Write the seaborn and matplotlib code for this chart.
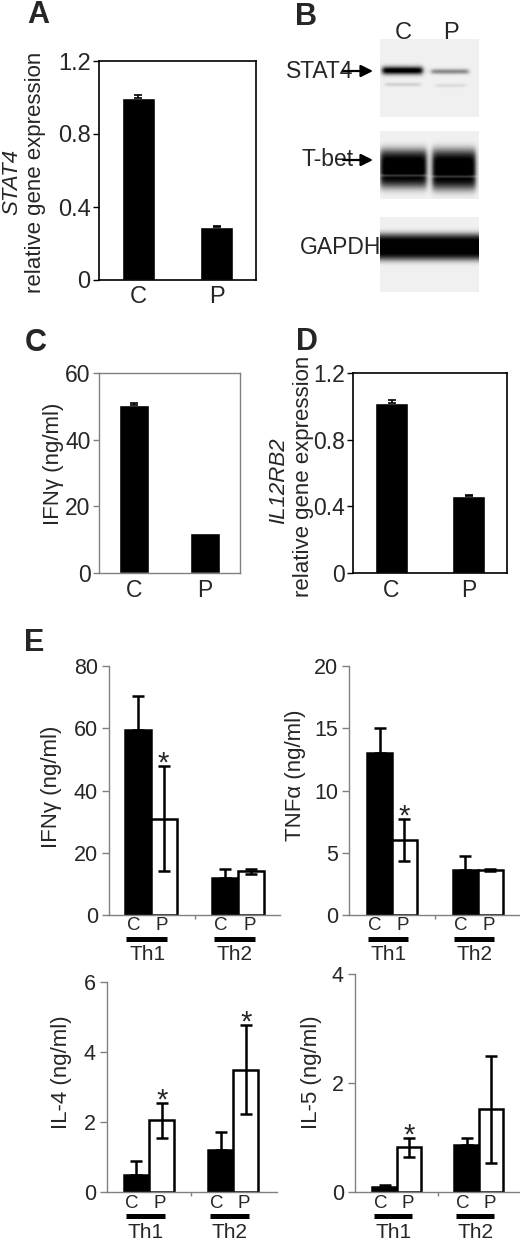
import numpy as np
import pandas as pd
import matplotlib
matplotlib.use("Agg")
import matplotlib.pyplot as plt
from matplotlib.transforms import blended_transform_factory
import seaborn as sns

# A: STAT4 relative gene expression
stat4_labels = ["C", "P"]
stat4_mean = [1.0, 0.29]
stat4_err = [0.012, 0.006]

# B: western blot band densities (1 = saturated band)
blot_stat4 = [1.0, 0.40]
blot_stat4_minor = [0.12, 0.08]
blot_tbet = [1.0, 1.0]
blot_gapdh = [1.0, 1.0]

# C: IFNγ secretion (ng/ml)
ifng_labels = ["C", "P"]
ifng_mean = [50.5, 12.0]
ifng_err = [0.6, 0.0]

# D: IL12RB2 relative gene expression
il12rb2_labels = ["C", "P"]
il12rb2_mean = [1.02, 0.46]
il12rb2_err = [0.02, 0.01]

# E: cytokines in Th1 / Th2 cultures, control (C) vs patient (P)
cell_types = ["Th1", "Th2"]
conditions = ["C", "P"]
e_ifng_c, e_ifng_c_err = [59.5, 12.0], [10.8, 2.8]
e_ifng_p, e_ifng_p_err = [31.0, 14.0], [17.0, 0.7]
e_ifng_star = [True, False]
e_tnfa_c, e_tnfa_c_err = [13.0, 3.6], [2.0, 1.1]
e_tnfa_p, e_tnfa_p_err = [6.0, 3.6], [1.7, 0.06]
e_tnfa_star = [True, False]
e_il4_c, e_il4_c_err = [0.5, 1.2], [0.38, 0.52]
e_il4_p, e_il4_p_err = [2.05, 3.5], [0.5, 1.28]
e_il4_star = [True, True]
e_il5_c, e_il5_c_err = [0.1, 0.87], [0.02, 0.12]
e_il5_p, e_il5_p_err = [0.82, 1.52], [0.17, 0.98]
e_il5_star = [True, False]

sns.set_style("ticks")
plt.rcParams["font.family"] = ["Liberation Sans", "DejaVu Sans"]

W, H = 520, 1242
fig = plt.figure(figsize=(W / 100, H / 100), dpi=100)


def px_axes(l, t, r, b):
    return fig.add_axes([l / W, 1 - b / H, (r - l) / W, (b - t) / H])


def style_spines(ax, color, lw, box=True):
    for name, s in ax.spines.items():
        if box or name in ("left", "bottom"):
            s.set_visible(True)
            s.set_color(color)
            s.set_linewidth(lw)
        else:
            s.set_visible(False)


def simple_panel(ax, labels, means, errs, ymax, yticks, yticklabels, width,
                 spine_color, spine_lw, fs):
    df = pd.DataFrame({"group": labels, "value": means})
    sns.barplot(data=df, x="group", y="value", color="black", saturation=1,
                width=width, errorbar=None, ax=ax)
    for bar, e in zip(ax.containers[0], errs):
        if e > 0:
            ax.errorbar(bar.get_x() + bar.get_width() / 2, bar.get_height(),
                        yerr=[[0], [e]], fmt="none", ecolor="black",
                        elinewidth=1.2, capsize=3, capthick=1.2)
    ax.set_xlim(-0.5, 1.5)
    ax.set_ylim(0, ymax)
    ax.set_yticks(yticks, yticklabels)
    ax.set_xlabel("")
    ax.set_ylabel("")
    ax.tick_params(axis="x", length=0, labelsize=fs, pad=4)
    ax.tick_params(axis="y", length=4, width=1, color=spine_color,
                   labelsize=fs, pad=2)
    style_spines(ax, spine_color, spine_lw)


def cytokine_panel(ax, c_vals, c_err, p_vals, p_err, stars, ymax, yticks,
                   xlim, width, cp_y, line_y, th_y):
    df = pd.DataFrame({"cell": cell_types * 2,
                       "cond": ["C"] * 2 + ["P"] * 2,
                       "value": c_vals + p_vals})
    sns.barplot(data=df, x="cell", y="value", hue="cond", hue_order=conditions,
                palette={"C": "black", "P": "white"}, saturation=1,
                width=width, edgecolor="black", linewidth=1.8,
                errorbar=None, legend=False, ax=ax)
    trans = blended_transform_factory(ax.transData, fig.transFigure)
    for cond, bars, errs in zip(conditions, ax.containers, [c_err, p_err]):
        for i, (bar, e) in enumerate(zip(bars, errs)):
            cx = bar.get_x() + bar.get_width() / 2
            top = bar.get_height()
            low = 0 if cond == "C" else e
            ax.errorbar(cx, top, yerr=[[low], [e]], fmt="none", ecolor="black",
                        elinewidth=1.8, capsize=4.5, capthick=1.8, clip_on=False)
            if cond == "P" and stars[i]:
                ax.annotate("*", (cx, top + e), xytext=(0, -4),
                            textcoords="offset points", ha="center",
                            va="baseline", fontsize=21)
            shift = -0.05 if cond == "C" else -0.02
            ax.text(cx + shift, 1 - cp_y / H, cond, transform=trans,
                    ha="center", va="center", fontsize=13.5)
    for i, cell in enumerate(cell_types):
        ax.plot([i - 0.28, i + 0.19], [1 - line_y / H] * 2, transform=trans,
                color="black", lw=3.6, solid_capstyle="butt", clip_on=False)
        ax.text(i - 0.04, 1 - th_y / H, cell, transform=trans,
                ha="center", va="center", fontsize=15)
    ax.set_xlim(*xlim)
    ax.set_ylim(0, ymax)
    ax.set_yticks(yticks)
    ax.set_xticks([0.5], [""])
    ax.set_xlabel("")
    ax.set_ylabel("")
    ax.tick_params(axis="x", length=3, width=1, color="#808080")
    ax.tick_params(axis="y", length=5, width=1, color="#808080",
                   labelsize=15.5, pad=3)
    style_spines(ax, "#808080", 1.0, box=False)


def blot(ax, bands, shape):
    h, w = shape
    img = np.full((h, w), 0.94)
    yy, xx = np.mgrid[0:h, 0:w].astype(float)
    for x0, x1, yc, half, dens, power in bands:
        fx = 1 / (1 + np.exp(-(xx - x0) / 1.3)) / (1 + np.exp((xx - x1) / 1.3))
        fy = np.exp(-np.abs((yy - yc) / half) ** power)
        img -= dens * fx * fy
    ax.imshow(np.clip(img, 0, 1), cmap="gray", vmin=0, vmax=1, aspect="auto",
              interpolation="bilinear")
    ax.axis("off")


# ---- A ----
axA = px_axes(99, 61, 256, 280)
simple_panel(axA, stat4_labels, stat4_mean, stat4_err, 1.2,
             [0, 0.4, 0.8, 1.2], ["0", "0.4", "0.8", "1.2"], 0.42,
             "black", 1.2, 17)

# ---- B ----
axB1 = px_axes(380, 39, 479, 117)
blot(axB1, [(2, 42, 31, 4.0, blot_stat4[0], 2),
            (51, 88, 32, 2.6, blot_stat4[1], 2),
            (5, 40, 45, 2.0, blot_stat4_minor[0], 2),
            (55, 85, 46, 2.0, blot_stat4_minor[1], 2)], (78, 99))
axB2 = px_axes(380, 131, 479, 199)
blot(axB2, [(0, 46, 37, 19, blot_tbet[0], 4),
            (0, 46, 44, 1.5, -0.25, 2),
            (52, 95, 38, 20, blot_tbet[1], 4),
            (52, 95, 45, 1.5, -0.25, 2)], (68, 99))
axB3 = px_axes(380, 217, 479, 292)
blot(axB3, [(-5, 104, 30, 13, blot_gapdh[0], 4)], (75, 99))

# ---- C ----
axC = px_axes(99, 373, 240, 573)
simple_panel(axC, ifng_labels, ifng_mean, ifng_err, 60,
             [0, 20, 40, 60], ["0", "20", "40", "60"], 0.43,
             "#808080", 1.0, 16.5)

# ---- D ----
axD = px_axes(353, 373, 507, 573)
simple_panel(axD, il12rb2_labels, il12rb2_mean, il12rb2_err, 1.2,
             [0, 0.4, 0.8, 1.2], ["0", "0.4", "0.8", "1.2"], 0.42,
             "black", 1.2, 16.5)

# ---- E ----
axE1 = px_axes(109, 666, 280, 915)
cytokine_panel(axE1, e_ifng_c, e_ifng_c_err, e_ifng_p, e_ifng_p_err,
               e_ifng_star, 80, [0, 20, 40, 60, 80], (-0.477, 1.477), 0.59,
               926, 939, 954)
axE2 = px_axes(349, 666, 520, 915)
cytokine_panel(axE2, e_tnfa_c, e_tnfa_c_err, e_tnfa_p, e_tnfa_p_err,
               e_tnfa_star, 20, [0, 5, 10, 15, 20], (-0.5, 1.49), 0.58,
               926, 939, 954)
axE3 = px_axes(107, 982, 277, 1192)
cytokine_panel(axE3, e_il4_c, e_il4_c_err, e_il4_p, e_il4_p_err,
               e_il4_star, 6, [0, 2, 4, 6], (-0.5, 1.52), 0.6,
               1204, 1216, 1232)
axE4 = px_axes(355, 974, 519, 1192)
cytokine_panel(axE4, e_il5_c, e_il5_c_err, e_il5_p, e_il5_p_err,
               e_il5_star, 4, [0, 2, 4], (-0.51, 1.49), 0.6,
               1204, 1216, 1232)

# ---- overlay for labels in pixel coordinates ----
ov = fig.add_axes([0, 0, 1, 1])
ov.set_xlim(0, W)
ov.set_ylim(H, 0)
ov.axis("off")

for letter, x, y in [("A", 38, 15), ("B", 306, 17), ("C", 36, 343),
                     ("D", 307, 342), ("E", 34, 643)]:
    ov.text(x, y, letter, ha="center", va="center", fontsize=22,
            fontweight="bold")

rot = dict(rotation=90, ha="center", va="center", fontsize=16)
ov.text(12, 182, "STAT4", style="italic", **rot)
ov.text(36, 172, "relative gene expression", **rot)
ov.text(54, 464, "IFNγ (ng/ml)", **rot)
ov.text(279, 481, "IL12RB2", style="italic", **rot)
ov.text(303, 476, "relative gene expression", **rot)
ov.text(52, 787, "IFNγ (ng/ml)", **rot)
ov.text(296, 775, "TNFα (ng/ml)", **rot)
ov.text(62, 1072, "IL-4 (ng/ml)", **rot)
ov.text(311, 1072, "IL-5 (ng/ml)", **rot)

# blot labels
ov.text(403, 33, "C", ha="center", va="center", fontsize=17)
ov.text(451, 33, "P", ha="center", va="center", fontsize=17)
for name, x_end, y in [("STAT4", 353, 71), ("T-bet", 354, 160)]:
    ov.text(x_end, y, name, ha="right", va="center", fontsize=16.5)
    ov.annotate("", xy=(373, y), xytext=(343, y),
                arrowprops=dict(arrowstyle="-|>", lw=1.6, color="black",
                                mutation_scale=18, shrinkA=0, shrinkB=0))
ov.text(381, 248, "GAPDH", ha="right", va="center", fontsize=16.5)

fig.savefig("out.png", dpi=100, facecolor="white")
